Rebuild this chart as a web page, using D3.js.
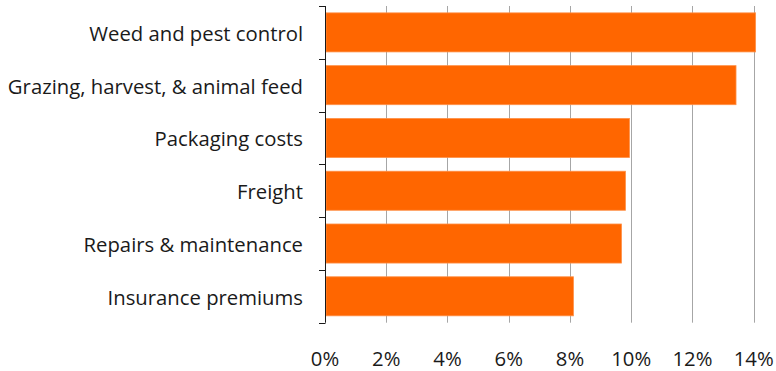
<!DOCTYPE html>
<html>
<head>
<meta charset="utf-8">
<script src="https://cdn.jsdelivr.net/npm/d3@7"></script>
<style>
  html, body { margin: 0; padding: 0; background: #fff; }
  svg { display: block; }
  text { font-family: "Open Sans", "Noto Sans", sans-serif; fill: #1a1a1a; }
</style>
</head>
<body>
<svg id="chart" width="776" height="371"></svg>
<script>
// Share of cost increase by category (percent)
const categories = [
  "Weed and pest control",
  "Grazing, harvest, & animal feed",
  "Packaging costs",
  "Freight",
  "Repairs & maintenance",
  "Insurance premiums"
];
const values = [14.03, 13.39, 9.91, 9.78, 9.65, 8.08];
const xTicks = [0, 2, 4, 6, 8, 10, 12, 14];

const svg = d3.select("#chart");
const plotLeft = 325, plotRight = 753.7, plotTop = 6, plotBottom = 322.7;

const x = d3.scaleLinear().domain([0, 14]).range([plotLeft, plotRight]);
const y = d3.scaleBand()
  .domain(categories)
  .range([plotTop, plotBottom])
  .paddingInner(0.26)
  .paddingOuter(0.13);

// vertical gridlines
svg.append("g")
  .selectAll("line")
  .data(xTicks.slice(1))
  .join("line")
  .attr("x1", d => Math.round(x(d)) + 0.5)
  .attr("x2", d => Math.round(x(d)) + 0.5)
  .attr("y1", plotTop)
  .attr("y2", plotBottom)
  .attr("stroke", "#a6a6a6")
  .attr("stroke-width", 1);

// bars
svg.append("g")
  .selectAll("rect")
  .data(values)
  .join("rect")
  .attr("x", x(0) + 1)
  .attr("y", (d, i) => y(categories[i]))
  .attr("width", d => x(d) - x(0))
  .attr("height", y.bandwidth())
  .attr("fill", "#ff6600")
  .attr("stroke", "#ff9148")
  .attr("stroke-width", 0.8);

// category axis with ticks at band boundaries
const yAxis = svg.append("g");
yAxis.append("line")
  .attr("x1", plotLeft + 0.5).attr("x2", plotLeft + 0.5)
  .attr("y1", plotTop).attr("y2", plotBottom)
  .attr("stroke", "#1a1a1a");
yAxis.selectAll("line.tick")
  .data(d3.range(categories.length + 1))
  .join("line")
  .attr("class", "tick")
  .attr("x1", plotLeft - 6).attr("x2", plotLeft + 0.5)
  .attr("y1", i => Math.round(plotTop + i * y.step()) + 0.5)
  .attr("y2", i => Math.round(plotTop + i * y.step()) + 0.5)
  .attr("stroke", "#1a1a1a");

yAxis.selectAll("text")
  .data(categories)
  .join("text")
  .attr("x", 303)
  .attr("y", d => y(d) + y.bandwidth() / 2)
  .attr("dy", "0.42em")
  .attr("text-anchor", "end")
  .attr("font-size", 20.3)
  .text(d => d);

// percentage axis labels
svg.append("g")
  .selectAll("text")
  .data(xTicks)
  .join("text")
  .attr("x", d => x(d))
  .attr("y", 366)
  .attr("text-anchor", "middle")
  .attr("font-size", 20.3)
  .text(d => d + "%");
</script>
</body>
</html>
